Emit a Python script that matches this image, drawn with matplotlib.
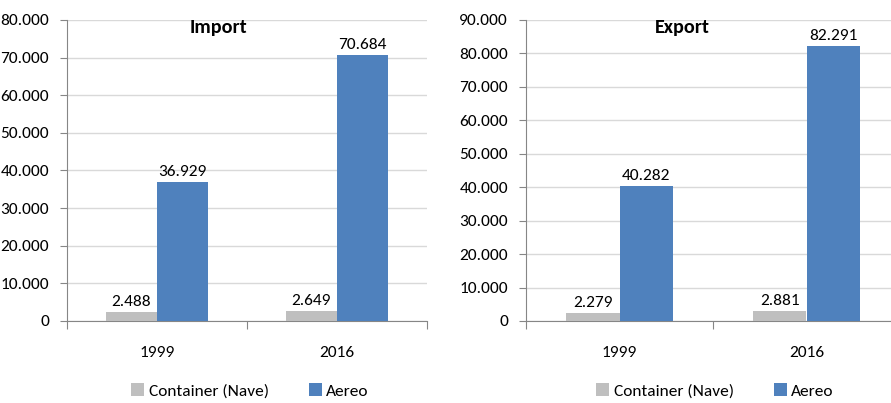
import matplotlib
matplotlib.use("Agg")
import matplotlib.pyplot as plt
import numpy as np
from matplotlib.ticker import FuncFormatter, FixedLocator

plt.rcParams['font.family'] = ['Carlito', 'DejaVu Sans']

years = ['1999', '2016']
series = ['Container (Nave)', 'Aereo']
colors = ['#BFBFBF', '#4F81BD']

import_container = [2488, 2649]
import_aereo = [36929, 70684]
export_container = [2279, 2881]
export_aereo = [40282, 82291]

W, H = 891, 403
FS = 12.5
fig = plt.figure(figsize=(W / 100, H / 100), dpi=100)


def fmt(v, pos=None):
    return f"{int(round(v)):,}".replace(",", ".")


def panel(rect, title, title_x, cont, aereo, ymax, step, legend_x):
    ax = fig.add_axes([rect[0] / W, (H - rect[3]) / H,
                       (rect[2] - rect[0]) / W, (rect[3] - rect[1]) / H])
    x = np.arange(len(years))
    w = 0.285
    for vals, off, c, name in [(cont, -w / 2, colors[0], series[0]),
                               (aereo, w / 2, colors[1], series[1])]:
        bars = ax.bar(x + off, vals, w, color=c, label=name, zorder=3)
        for b, v in zip(bars, vals):
            ax.text(b.get_x() + b.get_width() / 2, v + ymax * 0.01, fmt(v),
                    ha='center', va='bottom', fontsize=FS, zorder=4)
    ax.set_xlim(-0.5, len(years) - 0.5)
    ax.set_ylim(0, ymax)
    ax.yaxis.set_major_locator(FixedLocator(np.arange(0, ymax + 1, step)))
    ax.yaxis.set_major_formatter(FuncFormatter(fmt))
    ax.xaxis.set_major_locator(FixedLocator(np.arange(-0.5, len(years), 1)))
    ax.xaxis.set_minor_locator(FixedLocator(x))
    ax.set_xticklabels([], minor=False)
    ax.set_xticklabels(years, minor=True)
    ax.tick_params(axis='x', which='major', length=6, color='#868686')
    ax.tick_params(axis='x', which='minor', length=0, pad=18, labelsize=FS)
    ax.tick_params(axis='y', length=5, color='#868686', pad=8, labelsize=FS)
    ax.grid(axis='y', color='#D9D9D9', linewidth=1, zorder=0)
    for s in ['top', 'right']:
        ax.spines[s].set_visible(False)
    for s in ['left', 'bottom']:
        ax.spines[s].set_color('#868686')
    fig.text(title_x / W, 1 - 27 / H, title, ha='center', va='center',
             fontsize=14.5, fontweight='bold')
    handles, labels = ax.get_legend_handles_labels()
    fig.legend(handles, labels, loc='center', bbox_to_anchor=(legend_x / W, 1 - 391 / H),
               ncol=2, frameon=False, fontsize=FS, handlelength=0.75, handleheight=0.75,
               handletextpad=0.25, columnspacing=2.3, borderaxespad=0)
    return ax


panel((67, 20, 427, 321), 'Import', 218, import_container, import_aereo, 80000, 10000, 250)
panel((526, 20, 900, 321), 'Export', 682, export_container, export_aereo, 90000, 10000, 715)

fig.savefig('out.png', dpi=100)
